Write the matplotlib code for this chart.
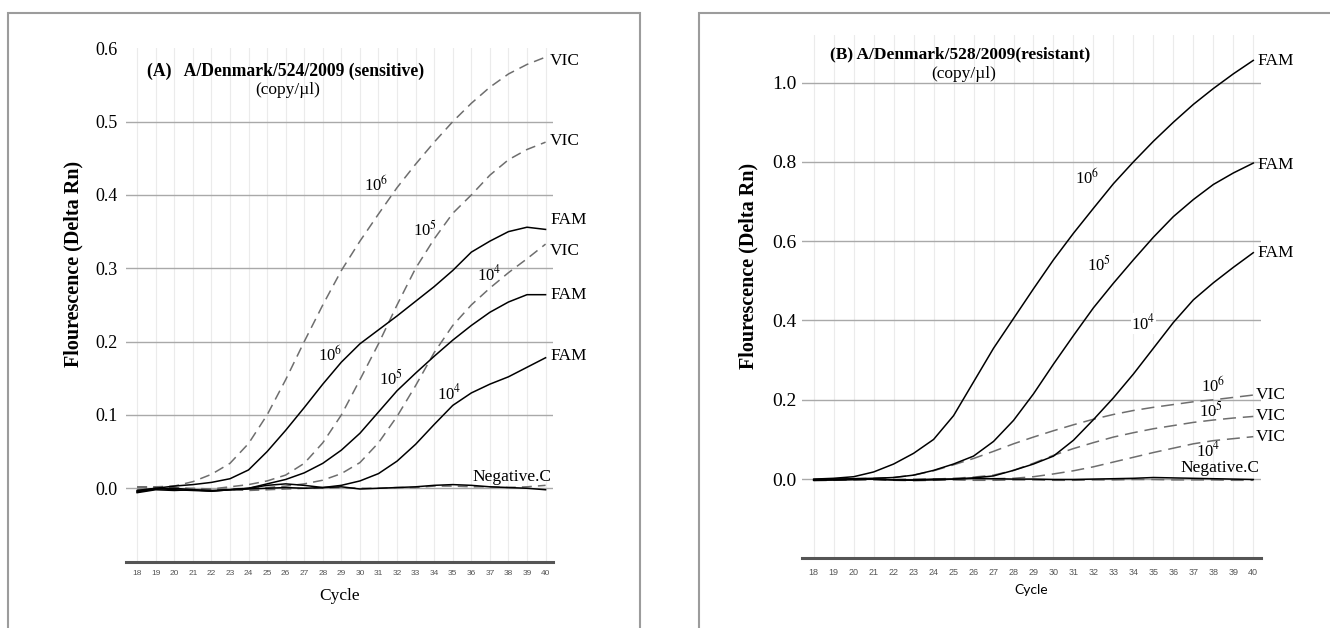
import numpy as np
import matplotlib
matplotlib.use("Agg")
import matplotlib.pyplot as plt
from matplotlib.patches import Rectangle
from matplotlib.ticker import FormatStrFormatter

plt.rcParams['font.family'] = ['Liberation Serif', 'DejaVu Serif']
plt.rcParams['mathtext.fontset'] = 'stix'

cycles = np.arange(18, 41)

# Panel A: A/Denmark/524/2009 (sensitive)
a_fam6 = [-0.004, 0.000, 0.003, 0.005, 0.008, 0.013, 0.025, 0.050, 0.079, 0.110, 0.142, 0.172,
          0.197, 0.216, 0.235, 0.255, 0.275, 0.297, 0.322, 0.337, 0.350, 0.356, 0.353]
a_vic6 = [0.002, 0.002, 0.003, 0.009, 0.019, 0.034, 0.061, 0.100, 0.148, 0.200, 0.250, 0.297,
          0.337, 0.374, 0.410, 0.442, 0.472, 0.500, 0.525, 0.547, 0.565, 0.578, 0.588]
a_fam5 = [-0.003, 0.000, -0.002, -0.003, -0.004, -0.002, 0.000, 0.006, 0.012, 0.021, 0.034, 0.052,
          0.075, 0.104, 0.133, 0.157, 0.180, 0.202, 0.222, 0.240, 0.254, 0.264, 0.264]
a_vic5 = [0.001, 0.001, 0.000, 0.000, -0.001, 0.002, 0.005, 0.010, 0.018, 0.034, 0.062, 0.100,
          0.148, 0.197, 0.250, 0.300, 0.340, 0.375, 0.400, 0.427, 0.448, 0.462, 0.472]
a_fam4 = [-0.005, -0.001, 0.000, -0.002, -0.003, -0.002, -0.001, 0.000, 0.001, 0.000, 0.001, 0.004,
          0.010, 0.020, 0.037, 0.060, 0.087, 0.113, 0.130, 0.142, 0.152, 0.165, 0.178]
a_vic4 = [-0.002, 0.000, 0.001, -0.001, -0.002, -0.001, 0.000, 0.001, 0.003, 0.006, 0.011, 0.020,
          0.035, 0.062, 0.098, 0.140, 0.185, 0.222, 0.250, 0.273, 0.294, 0.313, 0.333]
a_neg_fam = [-0.006, -0.002, -0.003, -0.002, -0.004, -0.002, 0.000, 0.004, 0.006, 0.004, 0.001, 0.002,
             -0.001, 0.000, 0.001, 0.002, 0.004, 0.005, 0.004, 0.002, 0.001, 0.000, -0.002]
a_neg_vic = [0.002, 0.001, 0.000, -0.001, -0.002, -0.002, -0.003, -0.002, -0.001, 0.000, 0.000, 0.001,
             0.000, 0.000, 0.001, 0.001, 0.003, 0.003, 0.002, 0.002, 0.001, 0.002, 0.004]
a_yticks = [0.0, 0.1, 0.2, 0.3, 0.4, 0.5, 0.6]
a_end_labels = ["VIC", "VIC", "FAM", "VIC", "FAM", "FAM"]
a_end_values = [0.582, 0.473, 0.366, 0.323, 0.264, 0.180]
a_conc = ["6", "5", "4", "6", "5", "4"]
a_conc_x = [30.85, 33.5, 36.95, 28.4, 31.65, 34.8]
a_conc_y = [0.414, 0.353, 0.291, 0.182, 0.150, 0.130]

# Panel B: A/Denmark/528/2009 (resistant)
b_fam6 = [0.000, 0.002, 0.006, 0.018, 0.038, 0.065, 0.100, 0.160, 0.245, 0.330, 0.405, 0.480,
          0.553, 0.620, 0.683, 0.745, 0.800, 0.852, 0.900, 0.945, 0.985, 1.022, 1.056]
b_fam5 = [-0.002, 0.000, 0.001, 0.002, 0.004, 0.010, 0.022, 0.038, 0.058, 0.095, 0.148, 0.215,
          0.290, 0.362, 0.432, 0.494, 0.553, 0.610, 0.662, 0.705, 0.743, 0.772, 0.797]
b_fam4 = [-0.003, -0.002, -0.001, 0.000, -0.002, -0.002, 0.000, 0.000, 0.003, 0.008, 0.022, 0.038,
          0.058, 0.098, 0.150, 0.205, 0.265, 0.330, 0.395, 0.452, 0.495, 0.534, 0.571]
b_vic6 = [0.000, 0.001, 0.001, 0.002, 0.004, 0.010, 0.021, 0.036, 0.052, 0.070, 0.089, 0.106,
          0.122, 0.137, 0.151, 0.163, 0.173, 0.181, 0.188, 0.195, 0.200, 0.206, 0.212]
b_vic5 = [-0.002, -0.001, 0.000, 0.000, -0.001, 0.000, 0.000, 0.002, 0.005, 0.010, 0.022, 0.040,
          0.060, 0.077, 0.092, 0.106, 0.117, 0.127, 0.135, 0.143, 0.149, 0.154, 0.158]
b_vic4 = [-0.002, -0.002, -0.001, -0.001, -0.002, -0.002, -0.001, 0.000, 0.000, 0.001, 0.002, 0.006,
          0.013, 0.021, 0.031, 0.043, 0.055, 0.067, 0.078, 0.089, 0.097, 0.102, 0.107]
b_neg_fam = [-0.003, -0.002, -0.001, 0.000, -0.002, -0.003, -0.002, 0.000, 0.002, 0.001, 0.000, 0.000,
             -0.001, -0.001, 0.000, 0.001, 0.002, 0.004, 0.003, 0.002, 0.001, 0.000, -0.001]
b_neg_vic = [-0.004, -0.003, -0.002, -0.002, -0.003, -0.004, -0.003, -0.002, -0.003, -0.003, -0.002, -0.002,
             -0.003, -0.003, -0.002, -0.002, -0.001, -0.001, -0.002, -0.002, -0.002, -0.003, -0.003]
b_yticks = [0.0, 0.2, 0.4, 0.6, 0.8, 1.0]
b_fam_end = [1.054, 0.793, 0.570]
b_vic_end = [0.213, 0.158, 0.107]
b_conc = ["6", "5", "4", "6", "5", "4"]
b_conc_x = [31.67, 32.3, 34.5, 38.0, 37.9, 37.75]
b_conc_y = [0.760, 0.540, 0.392, 0.236, 0.172, 0.072]

W, H = 1330, 628
fig = plt.figure(figsize=(W / 100, H / 100), dpi=100)

# grey frames round each panel
fig.patches.append(Rectangle((8 / W, -0.02), 632 / W, 1.02 - 13 / H, transform=fig.transFigure,
                             fill=False, edgecolor="#9c9c9c", lw=1.5))
fig.patches.append(Rectangle((699 / W, -0.02), 0.5, 1.02 - 13 / H, transform=fig.transFigure,
                             fill=False, edgecolor="#9c9c9c", lw=1.5))

axA = fig.add_axes([126 / W, 1 - 561.6 / H, 427 / W, 513.3 / H])
axB = fig.add_axes([801.7 / W, 1 - 558.4 / H, 459.6 / W, 523.4 / H])


def base_axes(ax, ylim, yticks, ytick_size, ypad, xtick_size, xpad):
    ax.set_xlim(17.4, 40.4)
    ax.set_ylim(*ylim)
    for c in cycles:
        ax.axvline(c, color="#ebebeb", lw=0.8, zorder=0)
    for y in yticks:
        if y < ylim[1] - 1e-9:
            ax.axhline(y, color="#a9a9a9", lw=1.0, zorder=1)
    for s in ["top", "right", "left"]:
        ax.spines[s].set_visible(False)
    ax.spines["bottom"].set_color("#555555")
    ax.spines["bottom"].set_linewidth(2.2)
    ax.set_xticks(cycles)
    ax.set_yticks(yticks)
    ax.yaxis.set_major_formatter(FormatStrFormatter("%.1f"))
    ax.tick_params(axis="y", length=0, pad=ypad, labelsize=ytick_size)
    ax.tick_params(axis="x", length=0, pad=xpad, labelsize=xtick_size, labelcolor="#555555")
    for t in ax.get_xticklabels():
        t.set_fontfamily("Liberation Sans")


# ---- panel A ----
base_axes(axA, (-0.1, 0.6), a_yticks, 13, 5.8, 6, 6)
dashA = (6.5, 4)
for ys in [a_vic6, a_vic5, a_vic4, a_neg_vic]:
    axA.plot(cycles, ys, color="#6e6e6e", lw=1.1, dashes=dashA, zorder=3)
for ys in [a_fam6, a_fam5, a_fam4, a_neg_fam]:
    axA.plot(cycles, ys, color="black", lw=1.1, zorder=4)

for lab, v in zip(a_end_labels, a_end_values):
    axA.text(40.25, v, lab, fontsize=12.5, ha="left", va="center")
for c, x, y in zip(a_conc, a_conc_x, a_conc_y):
    axA.text(x, y, "10$^{%s}$" % c, fontsize=12, ha="center", va="center", zorder=5)
axA.text(38.2, 0.016, "Negative.C", fontsize=12.5, ha="center", va="center", zorder=5)
axA.text(18.54, 0.568, "(A)   A/Denmark/524/2009 (sensitive)", fontsize=12.7,
         fontweight="bold", ha="left", va="center")
axA.text(26.1, 0.543, "(copy/\u00b5l)", fontsize=12.5, ha="center", va="center")
axA.set_xlabel("Cycle", fontsize=12.5)
axA.xaxis.set_label_coords(0.5, -0.051)
fig.text(73.3 / W, 1 - 264 / H, "Flourescence (Delta Rn)", rotation=90, fontsize=14.5,
         fontweight="bold", ha="center", va="center")

# ---- panel B ----
base_axes(axB, (-0.2, 1.12), b_yticks, 14, 3.6, 6.5, 7)
dashB = (8.5, 4.5)
for ys in [b_vic6, b_vic5, b_vic4, b_neg_vic]:
    axB.plot(cycles, ys, color="#6e6e6e", lw=1.1, dashes=dashB, zorder=3)
for ys in [b_fam6, b_fam5, b_fam4, b_neg_fam]:
    axB.plot(cycles, ys, color="black", lw=1.1, zorder=4)

for v in b_fam_end:
    axB.text(40.2, v, "FAM", fontsize=12.5, ha="left", va="center")
for v in b_vic_end:
    axB.text(40.1, v, "VIC", fontsize=12.5, ha="left", va="center")
for i, (c, x, y) in enumerate(zip(b_conc, b_conc_x, b_conc_y)):
    # the 10^4 FAM label sits on the 0.4 gridline and masks it
    box = dict(facecolor="white", edgecolor="none", pad=0.5) if i == 2 else None
    axB.text(x, y, "10$^{%s}$" % c, fontsize=12, ha="center", va="center", zorder=2, bbox=box)
axB.text(38.35, 0.028, "Negative.C", fontsize=12.5, ha="center", va="center", zorder=5)
axB.text(18.83, 1.071, "(B) A/Denmark/528/2009(resistant)", fontsize=12.5,
         fontweight="bold", ha="left", va="center")
axB.text(25.5, 1.021, "(copy/\u00b5l)", fontsize=12.5, ha="center", va="center")
axB.set_xlabel("Cycle", fontsize=10, fontfamily="Lato")
axB.xaxis.set_label_coords(0.5, -0.049)
fig.text(748 / W, 1 - 265.5 / H, "Flourescence (Delta Rn)", rotation=90, fontsize=14.5,
         fontweight="bold", ha="center", va="center")

fig.savefig("out.png", dpi=100, facecolor="white")
